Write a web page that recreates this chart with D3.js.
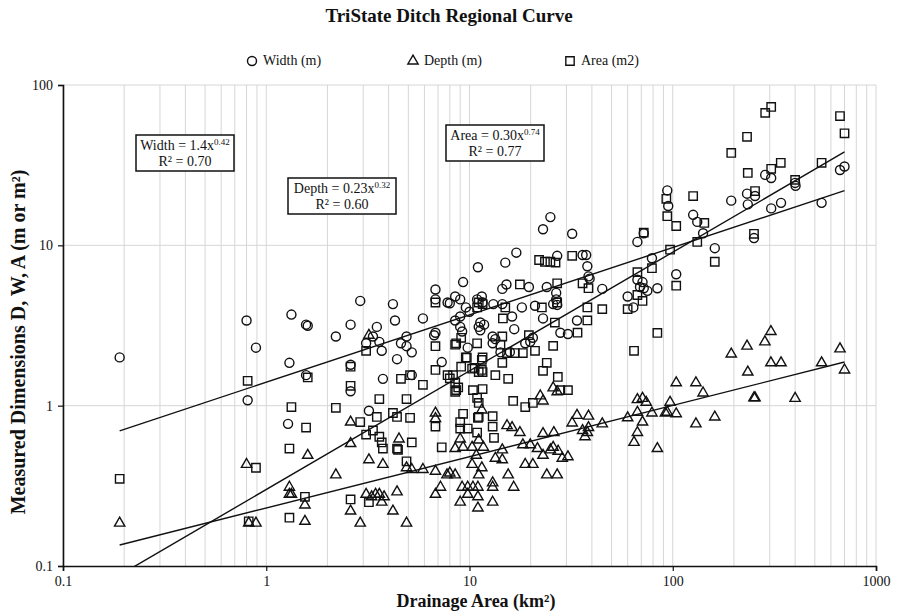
<!DOCTYPE html>
<html>
<head>
    <meta charset="utf-8">
    <title>TriState Ditch Regional Curve</title>
    <script src="https://cdn.jsdelivr.net/npm/d3@7"></script>
    <style>
        body { margin: 0; background: #fff; }
        text { font-family: "Liberation Serif", "Times New Roman", serif; fill: #111; }
        .grid line { stroke: #d6d6d6; stroke-width: 1; }
        .mark { fill: none; stroke: #111; stroke-width: 1.4; }
        .fit { fill: none; stroke: #111; stroke-width: 1.4; }
        .box { fill: #fff; stroke: #111; stroke-width: 1.5; }
    </style>
</head>
<body>
<svg id="chart" width="897" height="615"></svg>
<script>
    // measured points [drainage area km2, value]
    var widthPts = [
        [0.19, 2.0], [0.8, 3.4], [0.89, 2.3], [0.81, 1.08], [1.33, 3.7], [1.57, 3.2], [1.6, 3.15], [1.3, 1.85], [1.57, 1.55], [1.28, 0.77],
        [2.9, 4.5], [4.2, 4.3], [2.2, 2.7], [2.6, 3.2], [3.5, 3.1], [4.3, 3.4], [3.1, 2.45], [3.35, 2.7], [3.6, 2.5], [3.7, 2.2],
        [4.4, 1.95], [3.75, 1.47], [2.6, 1.8], [2.6, 1.23], [3.2, 0.93], [11, 7.3], [15, 7.8], [17, 9.0], [9.3, 5.9], [6.8, 5.3],
        [5.9, 3.5], [6.8, 4.6], [7.8, 4.4], [8.5, 4.8], [9.0, 4.6], [8.0, 4.35], [25, 15], [23, 12.6], [32, 11.8], [27, 8.6],
        [14.5, 5.35], [15.2, 5.7], [19.6, 5.5], [24, 5.5], [26.7, 5.05], [26.7, 4.6], [27, 4.25], [10.9, 4.6], [11.5, 4.8], [11.6, 4.4],
        [13.1, 4.3], [14.5, 4.3], [18.1, 4.1], [21, 4.2], [25.8, 4.3], [33.8, 3.4], [23, 3.5], [16.6, 3.0], [16.2, 3.6], [28, 2.85],
        [30.5, 2.8], [10, 3.85], [9.6, 4.1], [9.0, 3.6], [8.5, 3.4], [11.3, 3.3], [11.1, 3.1], [11.3, 2.95], [11.8, 3.2], [9.0, 3.1],
        [9.2, 2.9], [6.8, 2.85], [6.7, 2.75], [4.9, 2.7], [4.6, 2.45], [4.9, 2.35], [5.2, 2.15], [13, 2.7], [13.4, 2.6], [13, 2.45],
        [9.8, 2.3], [19.9, 2.5], [20.5, 2.65], [7.3, 1.87], [5.2, 1.55], [15.8, 2.16], [14.2, 2.15], [18.8, 2.45],
        [94, 22], [95, 17.6], [126, 15.5], [132, 14], [72, 11.9], [67, 10.5], [79, 8.3], [104, 6.6], [36, 8.7], [37.5, 8.7],
        [38, 7.4], [38.5, 6.4], [39, 6.2], [45, 5.35], [60, 4.8], [64, 4.1], [67, 6.1], [71, 5.9], [69, 5.5], [72, 5.4],
        [75, 5.2], [84, 5.4], [700, 31], [665, 29.5], [540, 18.4], [400, 24.5], [402, 23.5], [341, 18.4], [305, 17], [285, 27.5],
        [305, 26.3], [254, 20.3], [232, 21], [234, 18], [194, 19], [251, 11.1], [141, 11.9], [161, 9.6]
    ];

    var depthPts = [
        [0.19, 0.185], [0.8, 0.43], [0.82, 0.185], [0.89, 0.185], [1.3, 0.31], [1.3, 0.28], [1.33, 0.28], [1.55, 0.24], [1.55, 0.19], [1.6, 0.49],
        [3.2, 2.75], [2.6, 0.79], [2.6, 0.58], [3.2, 0.46], [3.75, 0.43], [2.2, 0.37], [2.6, 0.22], [2.9, 0.185], [3.1, 0.28], [3.3, 0.27],
        [3.45, 0.28], [3.6, 0.28], [3.7, 0.25], [4.2, 0.22], [4.4, 0.29], [6.8, 0.9], [6.8, 0.83], [11.5, 0.94], [22.3, 1.15], [23, 1.07],
        [25.8, 1.29], [27, 1.22], [15.3, 0.75], [16.2, 0.73], [17.7, 0.68], [23, 0.67], [26, 0.68], [33.8, 0.87], [32, 0.78], [9.0, 0.62],
        [8.5, 0.54], [9.3, 0.55], [10.3, 0.55], [11.1, 0.61], [11.7, 0.55], [10.8, 0.49], [10.3, 0.43], [11.5, 0.41], [11.1, 0.37], [14.5, 0.53],
        [14.5, 0.46], [13.4, 0.47], [18.3, 0.57], [19.9, 0.57], [21.6, 0.54], [23, 0.49], [25, 0.53], [25.8, 0.55], [27.3, 0.52], [28.6, 0.47],
        [30.5, 0.48], [18.8, 0.43], [20.5, 0.43], [24, 0.37], [27, 0.37], [15.5, 0.37], [16.5, 0.31], [13, 0.33], [13, 0.31], [5.9, 0.4],
        [6.8, 0.39], [7.75, 0.37], [8.0, 0.38], [8.5, 0.37], [5.2, 0.4], [4.9, 0.41], [7.2, 0.31], [6.8, 0.28], [9.2, 0.31], [9.8, 0.31],
        [10.4, 0.31], [11.0, 0.31], [9.8, 0.28], [11.0, 0.27], [9.0, 0.25], [11.0, 0.23], [13, 0.25], [4.5, 0.62], [3.8, 0.27], [4.9, 0.185],
        [104, 1.39], [130, 1.39], [130, 0.77], [67, 1.09], [71, 1.11], [74, 1.05], [67, 0.91], [79, 0.9], [92, 0.9], [104, 0.89],
        [97, 1.05], [94, 0.91], [71, 0.79], [67, 0.68], [64.5, 0.59], [84, 0.54], [60, 0.84], [45, 0.77], [38.5, 0.86], [36, 0.7],
        [38, 0.68], [37, 0.64], [38.5, 0.73], [304, 2.9], [284, 2.5], [232, 2.35], [194, 2.1], [234, 1.62], [304, 1.85], [341, 1.85],
        [540, 1.85], [665, 2.26], [700, 1.67], [254, 1.12], [251, 1.12], [400, 1.11], [141, 1.2], [161, 0.85]
    ];

    var areaPts = [
        [0.81, 1.43], [1.33, 0.98], [1.57, 0.73], [1.3, 0.54], [0.89, 0.41], [0.19, 0.35], [1.6, 1.5], [1.55, 0.27], [1.3, 0.2], [0.82, 0.19],
        [3.1, 2.2], [2.2, 0.97], [3.6, 1.1], [2.9, 0.79], [3.5, 0.85], [4.2, 0.9], [4.4, 0.85], [3.1, 0.66], [3.35, 0.7], [3.6, 0.64],
        [3.7, 0.59], [3.75, 0.54], [4.4, 0.54], [2.6, 1.75], [2.6, 1.33], [2.6, 0.26], [3.2, 0.25], [6.8, 4.4], [22, 8.1], [23.5, 7.9],
        [25, 7.9], [26.5, 7.8], [32, 8.6], [17.7, 5.7], [27, 5.8], [27, 4.4], [22.7, 4.1], [11.1, 4.4], [11.6, 4.3], [10.9, 4.1],
        [15, 4.1], [14.6, 3.5], [26.3, 3.3], [34, 2.85], [25.8, 2.36], [21, 2.2], [19.6, 2.75], [14.5, 2.7], [6.8, 2.35], [8.6, 2.45],
        [9.1, 2.65], [10.9, 2.45], [9.6, 2.0], [11.6, 2.0], [15.3, 2.13], [16.7, 2.13], [18.3, 2.13], [8.5, 2.4], [14.2, 2.4], [9.7, 1.99],
        [11.5, 1.93], [9.1, 1.75], [10.6, 1.72], [11.1, 1.62], [11.6, 1.62], [10.3, 1.7], [6.8, 1.67], [7.8, 1.55], [8.0, 1.48], [13.4, 1.55],
        [15.5, 1.47], [14.5, 1.85], [24, 1.85], [23, 1.65], [27.2, 1.51], [28, 1.25], [30.5, 1.25], [5.9, 1.35], [4.6, 1.47], [8.5, 1.39],
        [8.6, 1.25], [10.4, 1.25], [11.6, 1.27], [10.9, 1.12], [11.1, 1.04], [4.9, 1.1], [16.4, 1.07], [18.8, 0.98], [20.5, 1.04], [5.1, 0.84],
        [6.8, 0.74], [9.0, 0.79], [9.3, 0.89], [9.0, 0.72], [9.8, 0.72], [10.9, 0.68], [11.0, 0.84], [13, 0.86], [13, 0.74], [13.2, 0.63],
        [5.2, 0.59], [4.45, 0.53], [7.3, 0.55], [4.9, 0.45], [5.1, 1.55], [8.3, 1.55], [8.8, 1.3], [8.5, 1.22], [11.1, 0.85], [11.5, 1.67],
        [84, 2.84], [64.5, 2.2], [665, 64], [700, 50], [305, 73], [285, 67], [232, 47.5], [194, 37.7], [234, 28.3], [254, 21.8],
        [305, 30], [340, 32.7], [400, 25.6], [540, 32.7], [126, 20.3], [143, 13.8], [132, 10.5], [161, 7.9], [251, 11.8], [93, 19.5],
        [94, 15.2], [104, 13.2], [72, 12], [97, 9.4], [79, 7.2], [67, 6.8], [104, 5.6], [71, 4.5], [60, 4.0], [67, 4.9],
        [45, 4.0], [38, 4.1], [38, 3.4], [36, 5.8], [38.5, 5.4]
    ];

    // power-law fits y = a * x^b, drawn over the range of the data
    var fitNames = ["Width", "Depth", "Area"];
    var fitCoef = ["1.4", "0.23", "0.30"];
    var fitExp = ["0.42", "0.32", "0.74"];
    var fitR2 = ["0.70", "0.60", "0.77"];
    var fitRange = [0.19, 700];

    var xTicks = [0.1, 1, 10, 100, 1000];
    var xTickLabels = ["0.1", "1", "10", "100", "1000"];
    var yTicks = [0.1, 1, 10, 100];
    var yTickLabels = ["0.1", "1", "10", "100"];

    var seriesNames = ["Width (m)", "Depth (m)", "Area (m2)"];

    var margin = { top: 85, right: 21, bottom: 49, left: 63 },
        width = 897 - margin.left - margin.right,
        height = 615 - margin.top - margin.bottom;

    var svg = d3.select("#chart");

    var x = d3.scaleLog().domain([0.1, 1000]).range([0, width]);
    var y = d3.scaleLog().domain([0.1, 100]).range([height, 0]);

    var g = svg.append("g")
        .attr("transform", "translate(" + margin.left + "," + margin.top + ")");

    g.append("clipPath").attr("id", "plotclip")
        .append("rect").attr("width", width).attr("height", height);

    // gridlines: every minor step vertically, decades only horizontally
    g.append("g").attr("class", "grid")
        .selectAll("line").data(x.ticks())
        .enter().append("line")
        .attr("x1", function (d) { return x(d); })
        .attr("x2", function (d) { return x(d); })
        .attr("y1", 0).attr("y2", height);

    g.append("g").attr("class", "grid")
        .selectAll("line").data(yTicks.slice(1))
        .enter().append("line")
        .attr("x1", 0).attr("x2", width)
        .attr("y1", function (d) { return y(d); })
        .attr("y2", function (d) { return y(d); });

    // axes
    var xAxis = g.append("g")
        .attr("transform", "translate(0," + height + ")")
        .call(d3.axisBottom(x).tickValues(xTicks).tickSize(5).tickPadding(5)
            .tickFormat(function (d, i) { return xTickLabels[i]; }));

    var yAxis = g.append("g")
        .call(d3.axisLeft(y).tickValues(yTicks).tickSize(5).tickPadding(5)
            .tickFormat(function (d, i) { return yTickLabels[i]; }));

    [xAxis, yAxis].forEach(function (ax) {
        ax.select(".domain").attr("stroke", "#111").attr("stroke-width", 1.6);
        ax.selectAll(".tick line").attr("stroke", "#111").attr("stroke-width", 1.2);
        ax.selectAll("text").attr("font-size", 14)
            .attr("font-family", "'Liberation Serif', serif").attr("fill", "#111");
    });

    // markers
    var symCircle = d3.symbol().type(d3.symbolCircle).size(64);
    var symTri = d3.symbol().type(d3.symbolTriangle).size(46);
    var symSquare = d3.symbol().type(d3.symbolSquare).size(70);

    var marks = g.append("g").attr("clip-path", "url(#plotclip)");

    function drawPoints(pts, sym) {
        marks.append("g").selectAll("path").data(pts)
            .enter().append("path")
            .attr("class", "mark")
            .attr("d", sym)
            .attr("transform", function (d) { return "translate(" + x(d[0]) + "," + y(d[1]) + ")"; });
    }
    drawPoints(widthPts, symCircle);
    drawPoints(depthPts, symTri);
    drawPoints(areaPts, symSquare);

    // fit lines
    var fitLine = d3.line()
        .x(function (d) { return x(d[0]); })
        .y(function (d) { return y(d[1]); });

    fitNames.forEach(function (n, i) {
        var ends = fitRange.map(function (v) { return [v, +fitCoef[i] * Math.pow(v, +fitExp[i])]; });
        marks.append("path").datum(ends).attr("class", "fit").attr("d", fitLine);
    });

    // equation boxes
    var boxPos = [[73, 50], [225, 93], [383, 40]];
    var boxW = [98, 108, 98];

    fitNames.forEach(function (n, i) {
        var bg = g.append("g").attr("transform", "translate(" + boxPos[i][0] + "," + boxPos[i][1] + ")");
        bg.append("rect").attr("class", "box").attr("width", boxW[i]).attr("height", 36);
        var t1 = bg.append("text").attr("x", boxW[i] / 2).attr("y", 15)
            .attr("text-anchor", "middle").attr("font-size", 14);
        t1.append("tspan").text(n + " = " + fitCoef[i] + "x");
        t1.append("tspan").attr("dy", -5).attr("font-size", 9).text(fitExp[i]);
        bg.append("text").attr("x", boxW[i] / 2).attr("y", 31)
            .attr("text-anchor", "middle").attr("font-size", 14)
            .text("R\u00b2 = " + fitR2[i]);
    });

    // title
    svg.append("text")
        .attr("x", 449).attr("y", 22)
        .attr("text-anchor", "middle")
        .attr("font-size", 19).attr("font-weight", "bold")
        .text("TriState Ditch Regional Curve");

    // legend
    var legX = [252, 413, 570];
    var legSyms = [symCircle, symTri, symSquare];
    seriesNames.forEach(function (s, i) {
        var lg = svg.append("g").attr("transform", "translate(" + legX[i] + ",61)");
        lg.append("path").attr("class", "mark").attr("d", legSyms[i]);
        lg.append("text").attr("x", 11).attr("y", 4).attr("font-size", 14).text(s);
    });

    // axis titles
    svg.append("text")
        .attr("x", 476).attr("y", 607)
        .attr("text-anchor", "middle")
        .attr("font-size", 18).attr("font-weight", "bold")
        .text("Drainage Area (km\u00b2)");

    svg.append("text")
        .attr("transform", "translate(25,342) rotate(-90)")
        .attr("text-anchor", "middle")
        .attr("font-size", 20).attr("font-weight", "bold")
        .text("Measured Dimensions D, W, A (m or m\u00b2)");
</script>
</body>
</html>
